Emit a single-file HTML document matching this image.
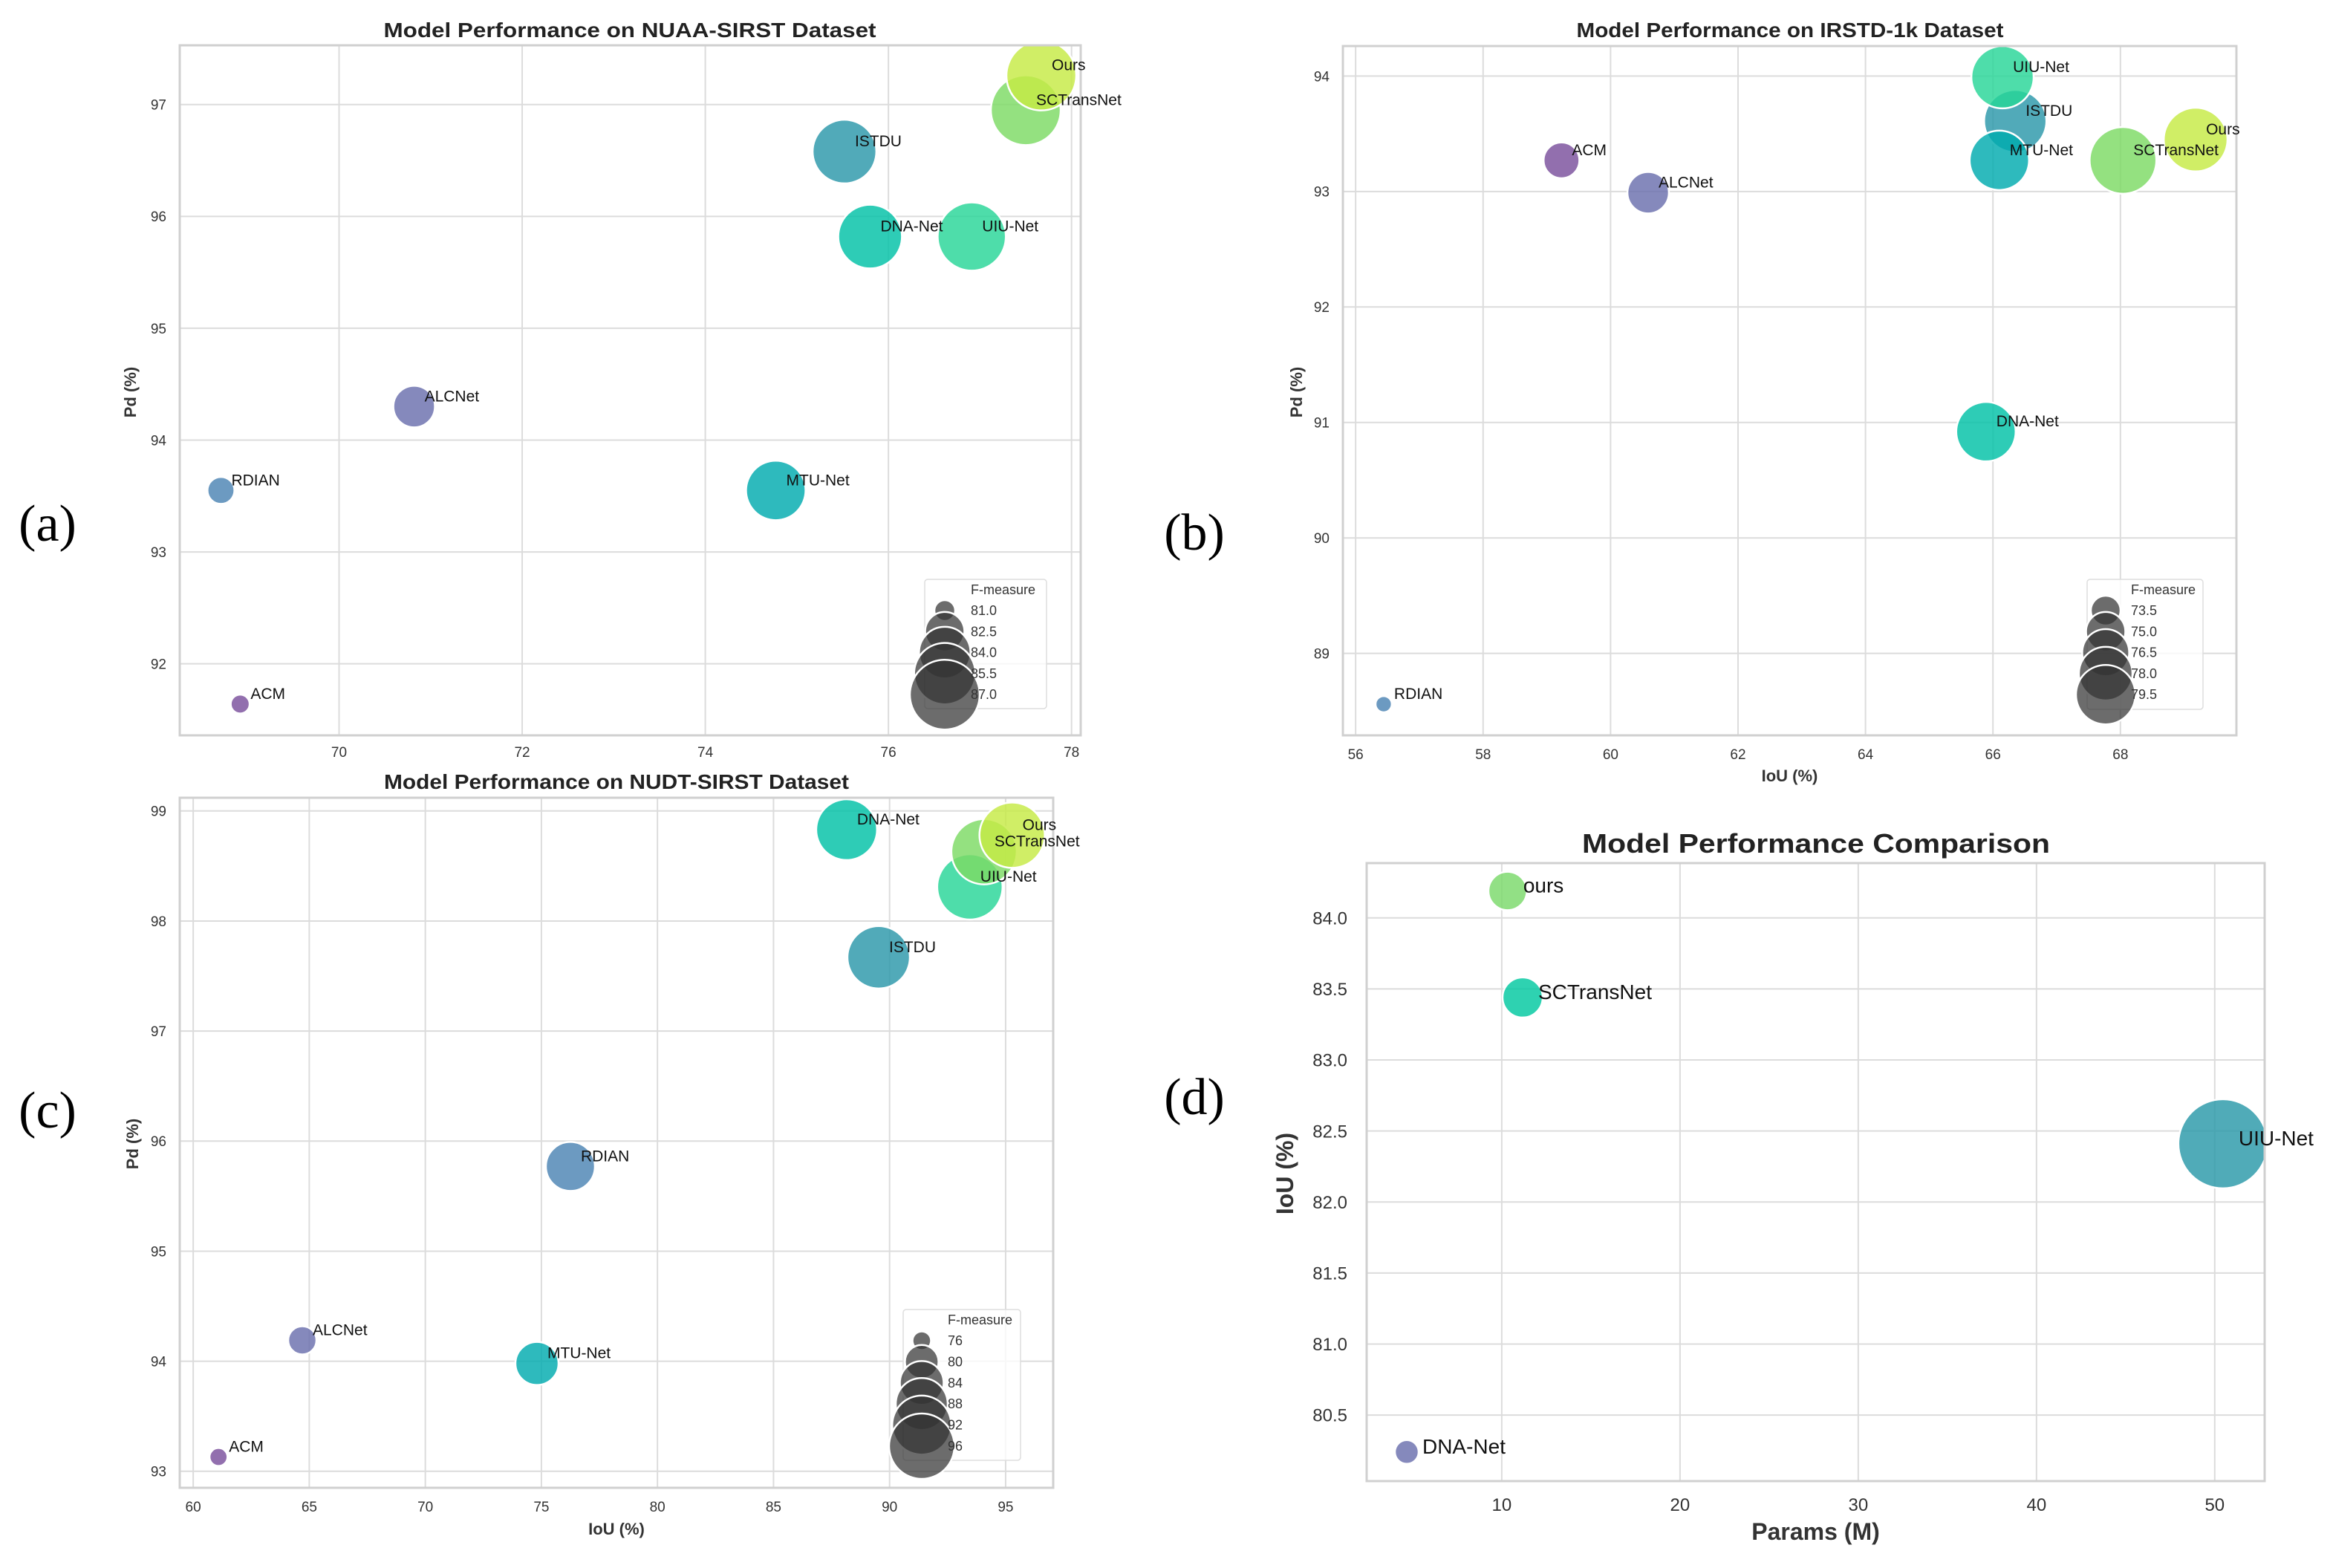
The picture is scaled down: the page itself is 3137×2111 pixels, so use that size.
<!DOCTYPE html>
<html><head><meta charset="utf-8">
<style>
html,body{margin:0;padding:0;background:#fff;}
svg{display:block;font-family:"Liberation Sans",Arial,sans-serif;}
</style></head>
<body>
<svg id="fig" width="3137" height="2111" viewBox="0 0 3137 2111" xmlns="http://www.w3.org/2000/svg">
<rect width="3137" height="2111" fill="#fff"/>
<text x="64" y="728" font-family="Liberation Serif,serif" font-size="70" text-anchor="middle">(a)</text>
<text x="1608" y="740" font-family="Liberation Serif,serif" font-size="70" text-anchor="middle">(b)</text>
<text x="64" y="1518" font-family="Liberation Serif,serif" font-size="70" text-anchor="middle">(c)</text>
<text x="1608" y="1500" font-family="Liberation Serif,serif" font-size="70" text-anchor="middle">(d)</text>
</svg>
<script>
// ---- data: panel (a) NUAA-SIRST ----
const aNames = ["ACM","ALCNet","RDIAN","DNA-Net","ISTDU","UIU-Net","MTU-Net","SCTransNet","Ours"];
const aIoU   = [68.92, 70.82, 68.71, 75.80, 75.52, 76.91, 74.77, 77.50, 77.67];
const aPd    = [91.64, 94.30, 93.55, 95.82, 96.58, 95.82, 93.55, 96.95, 97.26];
const aF     = [80.9, 82.75, 81.4, 85.9, 85.9, 86.7, 85.2, 87.0, 87.0];
const aXTicks = [70,72,74,76,78];
const aYTicks = [92,93,94,95,96,97];
const aLegend = [81.0,82.5,84.0,85.5,87.0];
// ---- data: panel (b) IRSTD-1k ----
const bNames = ["ACM","ALCNet","RDIAN","DNA-Net","ISTDU","UIU-Net","MTU-Net","SCTransNet","Ours"];
const bIoU   = [59.23, 60.59, 56.44, 65.89, 66.35, 66.15, 66.10, 68.04, 69.18];
const bPd    = [93.27, 92.99, 88.56, 90.92, 93.61, 93.99, 93.27, 93.27, 93.45];
const bF     = [74.4, 75.4, 72.1, 79.5, 80.3, 80.3, 79.5, 81.6, 80.7];
const bXTicks = [56,58,60,62,64,66,68];
const bYTicks = [89,90,91,92,93,94];
const bLegend = [73.5,75.0,76.5,78.0,79.5];
// ---- data: panel (c) NUDT-SIRST ----
const cNames = ["ACM","ALCNet","RDIAN","DNA-Net","ISTDU","UIU-Net","MTU-Net","SCTransNet","Ours"];
const cIoU   = [61.09, 64.70, 76.25, 88.15, 89.53, 93.46, 74.81, 94.07, 95.28];
const cPd    = [93.13, 94.19, 95.77, 98.83, 97.67, 98.31, 93.98, 98.63, 98.78];
const cF     = [75.9, 78.3, 86.5, 93.1, 94.1, 96.0, 83.7, 96.0, 96.0];
const cXTicks = [60,65,70,75,80,85,90,95];
const cYTicks = [93,94,95,96,97,98,99];
const cLegend = [76,80,84,88,92,96];
// ---- data: panel (d) comparison ----
const dNames  = ["DNA-Net","ours","SCTransNet","UIU-Net"];
const dParams = [4.67, 10.33, 11.17, 50.46];
const dIoU    = [80.24, 84.19, 83.44, 82.41];
const dXTicks = [10,20,30,40,50];
const dYTicks = [80.5,81.0,81.5,82.0,82.5,83.0,83.5,84.0];

const COLORS = {"ACM":"#7a4f9c","ALCNet":"#6a6fad","RDIAN":"#4c84b3","ISTDU":"#2b97aa","MTU-Net":"#00abae","DNA-Net":"#00c1a6","UIU-Net":"#27d597","SCTransNet":"#7cdb64","Ours":"#c6ea44"};
const DCOLORS = {"DNA-Net":"#6a6fad","ours":"#7ad96a","SCTransNet":"#00c8a0","UIU-Net":"#2a98a8"};

const NS="http://www.w3.org/2000/svg";
const svg=document.getElementById('fig');
function mk(tag,attrs,parent){const e=document.createElementNS(NS,tag);for(const k in attrs)e.setAttribute(k,attrs[k]);(parent||svg).appendChild(e);return e;}

function panel(cfg){
  const g=mk('g',{});
  
  
  const [L,T,R,B]=cfg.box;
  const sx=v=>L+(v-cfg.xd[0])/(cfg.xd[1]-cfg.xd[0])*(R-L);
  const sy=v=>B-(v-cfg.yd[0])/(cfg.yd[1]-cfg.yd[0])*(B-T);
  const bg=mk('rect',{x:L,y:T,width:R-L,height:B-T,fill:'#fff'},g);
  
  
  cfg.xt.forEach(t=>{
    const ln=mk('line',{x1:sx(t),x2:sx(t),y1:T,y2:B,stroke:'#dcdcdc','stroke-width':2},g);
    
    
    const tx=mk('text',{x:sx(t),y:cfg.xtY,'font-size':cfg.tfs,fill:'#333','text-anchor':'middle'},g);
    tx.textContent=t;
    
    
  });
  cfg.yt.forEach(t=>{
    const ln=mk('line',{x1:L,x2:R,y1:sy(t),y2:sy(t),stroke:'#dcdcdc','stroke-width':2},g);
    
    
    const tx=mk('text',{x:L-cfg.ytGap,y:sy(t)+cfg.tfs*0.36,'font-size':cfg.tfs,fill:'#333','text-anchor':'end'},g);
    tx.textContent=cfg.yfmt?t.toFixed(1):t;
    
    
  });
  const cp=mk('clipPath',{id:'clip-'+cfg.id},g);
  mk('rect',{x:L,y:T,width:R-L,height:B-T},cp);
  const pts=mk('g',{'clip-path':'url(#clip-'+cfg.id+')'},g);
  cfg.names.forEach((n,i)=>{
    const cx=sx(cfg.xs[i]),cy=sy(cfg.ys[i]),r=cfg.rad(cfg.sz[i]);
    const c=mk('circle',{cx:cx,cy:cy,r:r,fill:cfg.col[n],'fill-opacity':0.82,stroke:'#fff','stroke-width':2.5},pts);
    
    
  });
  const fr=mk('rect',{x:L,y:T,width:R-L,height:B-T,fill:'none',stroke:'#d0d0d0','stroke-width':3},g);
  
  
  cfg.names.forEach((n,i)=>{
    const cx=sx(cfg.xs[i]),cy=sy(cfg.ys[i]);
    const tx=mk('text',{x:cx+cfg.ldx,y:cy+cfg.ldy,'font-size':cfg.lfs,fill:'#111'},g);
    tx.textContent=n;
    
    
  });
  if(cfg.legend){
    const lg=cfg.legend;
    const lgG=mk('g',{},g);
    
    
    mk('rect',{x:lg.box[0],y:lg.box[1],width:lg.box[2]-lg.box[0],height:lg.box[3]-lg.box[1],fill:'#fff','fill-opacity':0.8,stroke:'#ddd','stroke-width':1.5,rx:4},lgG);
    const tt=mk('text',{x:lg.tx,y:lg.titleY,'font-size':18,fill:'#333'},lgG);
    tt.textContent='F-measure';
    lg.vals.forEach((v,i)=>{
      const y=lg.y0+i*lg.dy;
      const c=mk('circle',{cx:lg.cx,cy:y,r:cfg.rad(v),fill:'#333','fill-opacity':0.72,stroke:'#fff','stroke-width':2.5},lgG);
      
      
    });
    lg.vals.forEach((v,i)=>{
      const y=lg.y0+i*lg.dy;
      const t=mk('text',{x:lg.tx,y:y+6,'font-size':18,fill:'#333'},lgG);
      t.textContent=lg.fmt?v.toFixed(1):v;
    });
  }
  const ti=mk('text',{x:cfg.titleX,y:cfg.titleY,'font-size':cfg.titleFs,'font-weight':'bold',fill:'#222','text-anchor':'middle',textLength:cfg.titleLen,lengthAdjust:'spacingAndGlyphs'},g);
  ti.textContent=cfg.title;
  
  
  if(cfg.xlabel){
    const xl=mk('text',{x:(L+R)/2,y:cfg.xlY,'font-size':cfg.alfs,'font-weight':'bold',fill:'#333','text-anchor':'middle'},g);
    xl.textContent=cfg.xlabel;
    
    
  }
  const yl=mk('text',{x:0,y:0,'font-size':cfg.alfs,'font-weight':'bold',fill:'#333','text-anchor':'middle',transform:'translate('+cfg.ylX+','+cfg.ylY+') rotate(-90)'},g);
  yl.textContent=cfg.ylabel;
  
  
}
const radA=f=>Math.sqrt(Math.max(60,196+(f-81)*335.5));
const radB=f=>Math.sqrt(Math.max(60,400+(f-73.5)*200));
const radC=f=>Math.sqrt(Math.max(60,156+(f-76)*89));
const radD=p=>Math.sqrt(Math.max(60,256+(p-4.67)*73));

panel({id:'nuaa',box:[242,61,1455,990],xd:[68.26,78.1],yd:[91.36,97.53],xt:aXTicks,yt:aYTicks,
  names:aNames,xs:aIoU,ys:aPd,sz:aF,rad:radA,col:COLORS,tfs:19,ytGap:18,xtY:1019,lfs:21,ldx:14,ldy:-7,
  title:'Model Performance on NUAA-SIRST Dataset',titleX:848,titleY:50,titleFs:28,titleLen:663,
  xlabel:null,ylabel:'Pd (%)',alfs:22,ylX:183,ylY:528,
  legend:{box:[1245,780,1409,954],cx:1272,tx:1307,titleY:800,y0:822,dy:28.3,vals:aLegend,fmt:true}});
panel({id:'irstd',box:[1808,62,3011,990],xd:[55.8,69.82],yd:[88.29,94.26],xt:bXTicks,yt:bYTicks,
  names:bNames,xs:bIoU,ys:bPd,sz:bF,rad:radB,col:COLORS,tfs:19,ytGap:18,xtY:1022,lfs:21,ldx:14,ldy:-7,
  title:'Model Performance on IRSTD-1k Dataset',titleX:2410,titleY:50,titleFs:28,titleLen:575,
  xlabel:'IoU (%)',xlY:1052,ylabel:'Pd (%)',alfs:22,ylX:1753,ylY:528,
  legend:{box:[2810,780,2966,955],cx:2835,tx:2869,titleY:800,y0:822,dy:28.3,vals:bLegend,fmt:true}});
panel({id:'nudt',box:[242,1074,1418,2003],xd:[59.42,97.05],yd:[92.85,99.12],xt:cXTicks,yt:cYTicks,
  names:cNames,xs:cIoU,ys:cPd,sz:cF,rad:radC,col:COLORS,tfs:19,ytGap:18,xtY:2035,lfs:21,ldx:14,ldy:-7,
  title:'Model Performance on NUDT-SIRST Dataset',titleX:830,titleY:1062,titleFs:28,titleLen:626,
  xlabel:'IoU (%)',xlY:2066,ylabel:'Pd (%)',alfs:22,ylX:186,ylY:1540,
  legend:{box:[1216,1763,1374,1966],cx:1241,tx:1276,titleY:1783,y0:1805,dy:28.4,vals:cLegend,fmt:false}});
panel({id:'params',box:[1840,1162,3049,1994],xd:[2.42,52.8],yd:[80.035,84.386],xt:dXTicks,yt:dYTicks,
  names:dNames,xs:dParams,ys:dIoU,sz:dParams,rad:radD,col:DCOLORS,tfs:24,ytGap:26,yfmt:true,xtY:2034,lfs:28,ldx:21,ldy:2,
  title:'Model Performance Comparison',titleX:2445,titleY:1148,titleFs:36,titleLen:630,
  xlabel:'Params (M)',xlY:2073,ylabel:'IoU (%)',alfs:32,ylX:1741,ylY:1580,legend:null});
</script>
</body></html>
